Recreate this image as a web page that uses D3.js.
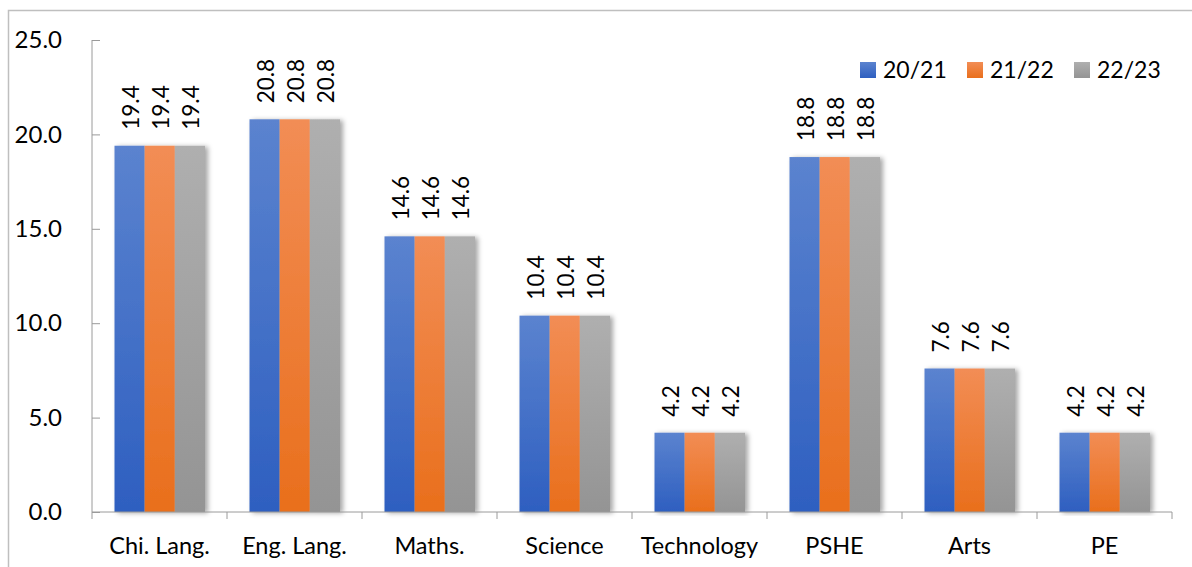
<!DOCTYPE html>
<html>
<head>
<meta charset="utf-8">
<script src="https://cdn.jsdelivr.net/npm/d3@7"></script>
<style>
  html, body { margin: 0; padding: 0; background: #fff; }
  svg { display: block; font-family: Lato, "Open Sans", sans-serif; }
</style>
</head>
<body>
<svg id="chart" width="1192" height="567"></svg>
<script>
// Subject categories and yearly values
const categories = ["Chi. Lang.", "Eng. Lang.", "Maths.", "Science", "Technology", "PSHE", "Arts", "PE"];
const seriesNames = ["20/21", "21/22", "22/23"];
const values2021 = [19.4, 20.8, 14.6, 10.4, 4.2, 18.8, 7.6, 4.2];
const values2122 = [19.4, 20.8, 14.6, 10.4, 4.2, 18.8, 7.6, 4.2];
const values2223 = [19.4, 20.8, 14.6, 10.4, 4.2, 18.8, 7.6, 4.2];
const yTicks = [0, 5, 10, 15, 20, 25];

const seriesValues = [values2021, values2122, values2223];
const colors = [
  { top: "#5b83cf", bottom: "#2e5fc0" },
  { top: "#f28d55", bottom: "#e96f1c" },
  { top: "#afafaf", bottom: "#949494" }
];

const svg = d3.select("#chart");
const W = 1192, H = 567;
const plot = { left: 92, right: 1172, top: 40, bottom: 512 };

// Outer frame
svg.append("rect")
  .attr("x", 8.5).attr("y", 10.5)
  .attr("width", W + 20).attr("height", H + 20)
  .attr("fill", "none").attr("stroke", "#bfbfbf").attr("stroke-width", 1.5);

const defs = svg.append("defs");
colors.forEach((c, i) => {
  const g = defs.append("linearGradient").attr("id", "grad" + i)
    .attr("x1", 0).attr("y1", 0).attr("x2", 0).attr("y2", 1);
  g.append("stop").attr("offset", "0%").attr("stop-color", c.top);
  g.append("stop").attr("offset", "100%").attr("stop-color", c.bottom);
});
const shadow = defs.append("filter").attr("id", "shadow")
  .attr("x", "-20%").attr("y", "-5%").attr("width", "140%").attr("height", "110%");
shadow.append("feDropShadow").attr("dx", 3).attr("dy", 1).attr("stdDeviation", 2.5)
  .attr("flood-color", "#000").attr("flood-opacity", 0.35);

const x0 = d3.scaleBand().domain(categories).range([plot.left, plot.right]).paddingInner(0).paddingOuter(0);
const x1 = d3.scaleBand().domain(seriesNames).range([22.5, x0.bandwidth() - 22]);
const y = d3.scaleLinear().domain([0, 25]).range([plot.bottom, plot.top]);

// Bars
const groups = svg.append("g").selectAll("g.cat")
  .data(categories)
  .join("g")
  .attr("class", "cat")
  .attr("transform", d => `translate(${x0(d)},0)`)
  .attr("filter", "url(#shadow)");

groups.selectAll("rect")
  .data((d, ci) => seriesNames.map((s, si) => ({ s, si, v: seriesValues[si][ci] })))
  .join("rect")
  .attr("x", d => x1(d.s))
  .attr("y", d => y(d.v))
  .attr("width", x1.bandwidth())
  .attr("height", d => y(0) - y(d.v))
  .attr("fill", d => `url(#grad${d.si})`);

// Value labels, rotated
const labelG = svg.append("g");
categories.forEach((c, ci) => {
  seriesNames.forEach((s, si) => {
    const v = seriesValues[si][ci];
    const cx = x0(c) + x1(s) + x1.bandwidth() / 2 + 1;
    const cy = y(v) - 16;
    labelG.append("text")
      .attr("transform", `translate(${cx},${cy}) rotate(-90)`)
      .attr("dy", "0.36em")
      .attr("font-size", 22.5)
      .attr("fill", "#000")
      .text(v.toFixed(1));
  });
});

// Y axis
const yAxis = d3.axisLeft(y).tickValues(yTicks).tickSize(-8).tickFormat(d => d.toFixed(1)).tickPadding(30);
const yg = svg.append("g").attr("transform", `translate(${plot.left},0)`).call(yAxis);
yg.select(".domain").remove();
yg.append("line").attr("x1", 0).attr("x2", 0).attr("y1", plot.top).attr("y2", plot.bottom).attr("stroke", "#9a9a9a");
yg.selectAll(".tick line").attr("stroke", "#9a9a9a");
yg.selectAll(".tick text").attr("font-size", 24).attr("fill", "#000").attr("font-family", "Lato, sans-serif");

// X axis
const xAxis = d3.axisBottom(x0).tickSize(0).tickPadding(25);
const xg = svg.append("g").attr("transform", `translate(0,${plot.bottom})`).call(xAxis);
xg.select(".domain").remove();
xg.append("line").attr("x1", plot.left).attr("x2", plot.right).attr("y1", 0).attr("y2", 0).attr("stroke", "#9a9a9a");
xg.selectAll(".tick text").attr("font-size", 23.5).attr("fill", "#000").attr("font-family", "Lato, sans-serif");
const boundaries = categories.map(c => x0(c)).concat([plot.right]);
xg.selectAll("line.sep").data(boundaries).join("line").attr("class", "sep")
  .attr("x1", d => d).attr("x2", d => d).attr("y1", 0).attr("y2", 7).attr("stroke", "#9a9a9a");

// Legend
const legendX = [860, 967, 1074];
const legend = svg.append("g");
seriesNames.forEach((s, i) => {
  legend.append("rect").attr("x", legendX[i]).attr("y", 62).attr("width", 16).attr("height", 16)
    .attr("fill", `url(#grad${i})`);
  legend.append("text").attr("x", legendX[i] + 23).attr("y", 70).attr("dy", "0.36em")
    .attr("font-size", 23).attr("fill", "#000").text(s);
});
</script>
</body>
</html>
